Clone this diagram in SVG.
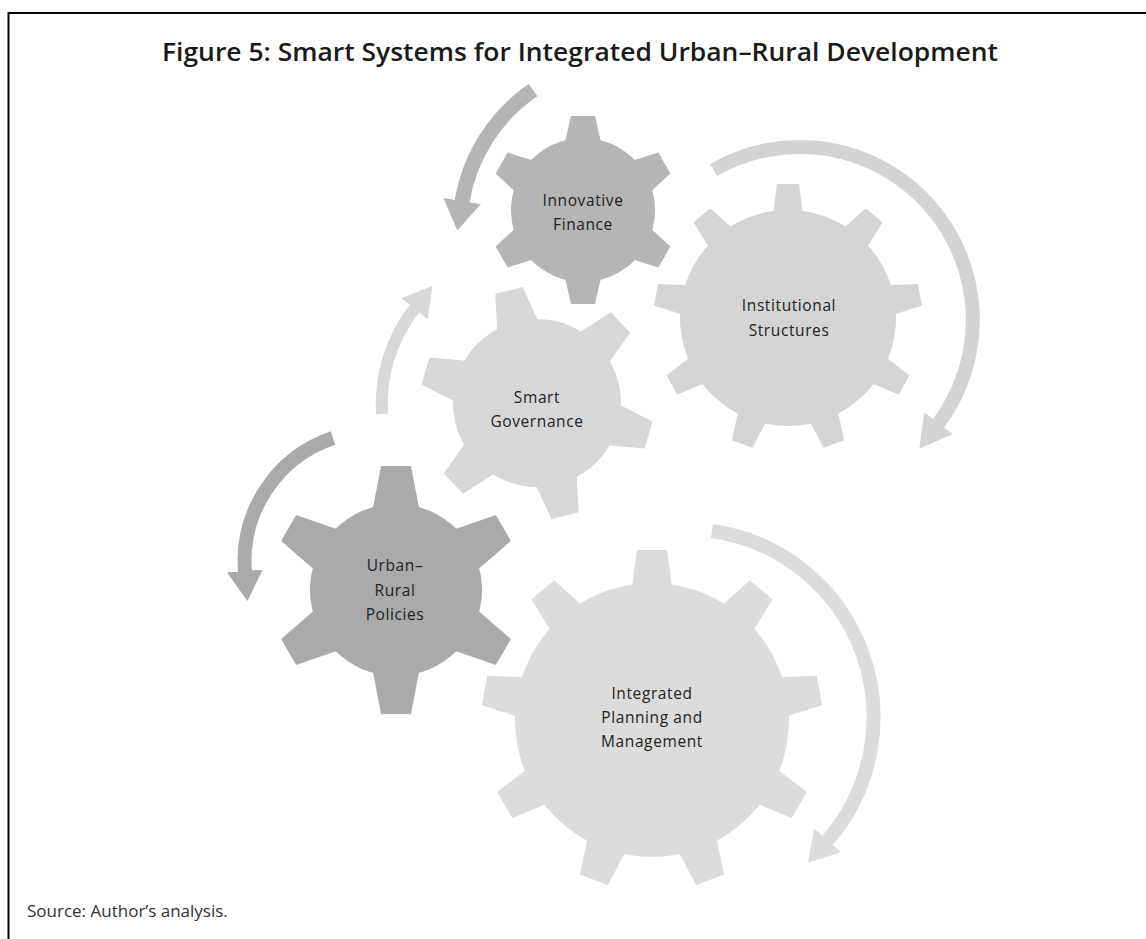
<svg xmlns="http://www.w3.org/2000/svg" width="1146" height="939" viewBox="0 0 1146 939">
<style>
.lbl{font-family:"Open Sans","Liberation Sans",sans-serif;font-size:15.5px;fill:#222;text-anchor:middle;letter-spacing:0.6px}
.title{font-family:"Open Sans","Liberation Sans",sans-serif;font-weight:600;font-size:25px;fill:#1a1a1a;text-anchor:middle}
.src{font-family:"Open Sans","Liberation Sans",sans-serif;font-size:17px;fill:#333}
.arr{fill:none;stroke-linecap:butt}
.dark1{fill:#b5b5b5}
.dark2{fill:#aaaaaa}
.light1{fill:#d4d4d4}
.light2{fill:#d7d7d7}
.light3{fill:#dcdcdc}
</style>
<defs>
<polygon id="tIF" points="-18,-68 18,-68 12,-94 -12,-94"/>
<polygon id="tIS" points="-15,-104 15,-104 11,-134 -11,-134"/>
<polygon id="tSG" points="-21,-80 21,-80 14,-116 -14,-116"/>
<polygon id="tUR" points="-23,-82 23,-82 15,-124 -15,-124"/>
<polygon id="tIP" points="-20,-133 20,-133 15,-170 -15,-170"/>
<marker id="hIF" markerUnits="userSpaceOnUse" markerWidth="30" markerHeight="38" viewBox="0 0 30 38" refX="1" refY="19" orient="auto"><path d="M0,0 L30,19 L0,38 z" fill="#b5b5b5"/></marker>
<marker id="hUR" markerUnits="userSpaceOnUse" markerWidth="30" markerHeight="36" viewBox="0 0 30 36" refX="1" refY="18" orient="auto"><path d="M0,0 L30,18 L0,36 z" fill="#aaaaaa"/></marker>
<marker id="hIS" markerUnits="userSpaceOnUse" markerWidth="32" markerHeight="36" viewBox="0 0 32 36" refX="1" refY="18" orient="auto"><path d="M0,0 L32,18 L0,36 z" fill="#d3d3d3"/></marker>
<marker id="hSG" markerUnits="userSpaceOnUse" markerWidth="29" markerHeight="34" viewBox="0 0 29 34" refX="1" refY="17" orient="auto"><path d="M0,0 L29,17 L0,34 z" fill="#d8d8d8"/></marker>
<marker id="hIP" markerUnits="userSpaceOnUse" markerWidth="30" markerHeight="36" viewBox="0 0 30 36" refX="1" refY="18" orient="auto"><path d="M0,0 L30,18 L0,36 z" fill="#dcdcdc"/></marker>
</defs>
<rect width="1146" height="939" fill="#ffffff"/>
<path d="M8.5,939 V13 H1146" fill="none" stroke="#000" stroke-width="2"/>
<text class="title" x="580" y="61" textLength="836" lengthAdjust="spacingAndGlyphs">Figure 5: Smart Systems for Integrated Urban–Rural Development</text>

<g id="connectors">
<path class="arr" d="M533,90 A169,169 0 0 0 462,202" stroke="#b5b5b5" stroke-width="15" marker-end="url(#hIF)"/>
<path class="arr" d="M713.5,170 A173,173 0 0 1 938,424" stroke="#d3d3d3" stroke-width="14" marker-end="url(#hIS)"/>
<path class="arr" d="M382,414 A155,155 0 0 1 415,308" stroke="#d8d8d8" stroke-width="12" marker-end="url(#hSG)"/>
<path class="arr" d="M333,438 A130,130 0 0 0 245,572" stroke="#aaaaaa" stroke-width="14" marker-end="url(#hUR)"/>
<path class="arr" d="M712,531 A188,188 0 0 1 827,841" stroke="#dcdcdc" stroke-width="14" marker-end="url(#hIP)"/>
</g>

<g id="institutional-structures">
<g class="light1" transform="translate(788,318)">
<circle r="108"/>
<use href="#tIS"/><use href="#tIS" transform="rotate(40)"/><use href="#tIS" transform="rotate(80)"/><use href="#tIS" transform="rotate(120)"/><use href="#tIS" transform="rotate(160)"/><use href="#tIS" transform="rotate(200)"/><use href="#tIS" transform="rotate(240)"/><use href="#tIS" transform="rotate(280)"/><use href="#tIS" transform="rotate(320)"/>
</g>
<text class="lbl" x="789" y="311">Institutional</text>
<text class="lbl" x="789" y="336">Structures</text>
</g>

<g id="innovative-finance">
<g class="dark1" transform="translate(583,210)">
<circle r="72"/>
<use href="#tIF"/><use href="#tIF" transform="rotate(60)"/><use href="#tIF" transform="rotate(120)"/><use href="#tIF" transform="rotate(180)"/><use href="#tIF" transform="rotate(240)"/><use href="#tIF" transform="rotate(300)"/>
</g>
<text class="lbl" x="583" y="206">Innovative</text>
<text class="lbl" x="583" y="230">Finance</text>
</g>

<g id="smart-governance">
<g class="light2" transform="translate(537,403)">
<circle r="84"/>
<use href="#tSG" transform="rotate(-14)"/><use href="#tSG" transform="rotate(46)"/><use href="#tSG" transform="rotate(106)"/><use href="#tSG" transform="rotate(166)"/><use href="#tSG" transform="rotate(226)"/><use href="#tSG" transform="rotate(286)"/>
</g>
<text class="lbl" x="537" y="403">Smart</text>
<text class="lbl" x="537" y="427">Governance</text>
</g>

<g id="urban-rural-policies">
<g class="dark2" transform="translate(396,590)">
<circle r="86"/>
<use href="#tUR"/><use href="#tUR" transform="rotate(60)"/><use href="#tUR" transform="rotate(120)"/><use href="#tUR" transform="rotate(180)"/><use href="#tUR" transform="rotate(240)"/><use href="#tUR" transform="rotate(300)"/>
</g>
<text class="lbl" x="395" y="571">Urban–</text>
<text class="lbl" x="395" y="596">Rural</text>
<text class="lbl" x="395" y="620">Policies</text>
</g>

<g id="integrated-planning-management">
<g class="light3" transform="translate(652,720)">
<circle r="137"/>
<use href="#tIP"/><use href="#tIP" transform="rotate(40)"/><use href="#tIP" transform="rotate(80)"/><use href="#tIP" transform="rotate(120)"/><use href="#tIP" transform="rotate(160)"/><use href="#tIP" transform="rotate(200)"/><use href="#tIP" transform="rotate(240)"/><use href="#tIP" transform="rotate(280)"/><use href="#tIP" transform="rotate(320)"/>
</g>
<text class="lbl" x="652" y="699">Integrated</text>
<text class="lbl" x="652" y="723">Planning and</text>
<text class="lbl" x="652" y="747">Management</text>
</g>

<text class="src" x="27" y="917">Source: Author’s analysis.</text>
</svg>
